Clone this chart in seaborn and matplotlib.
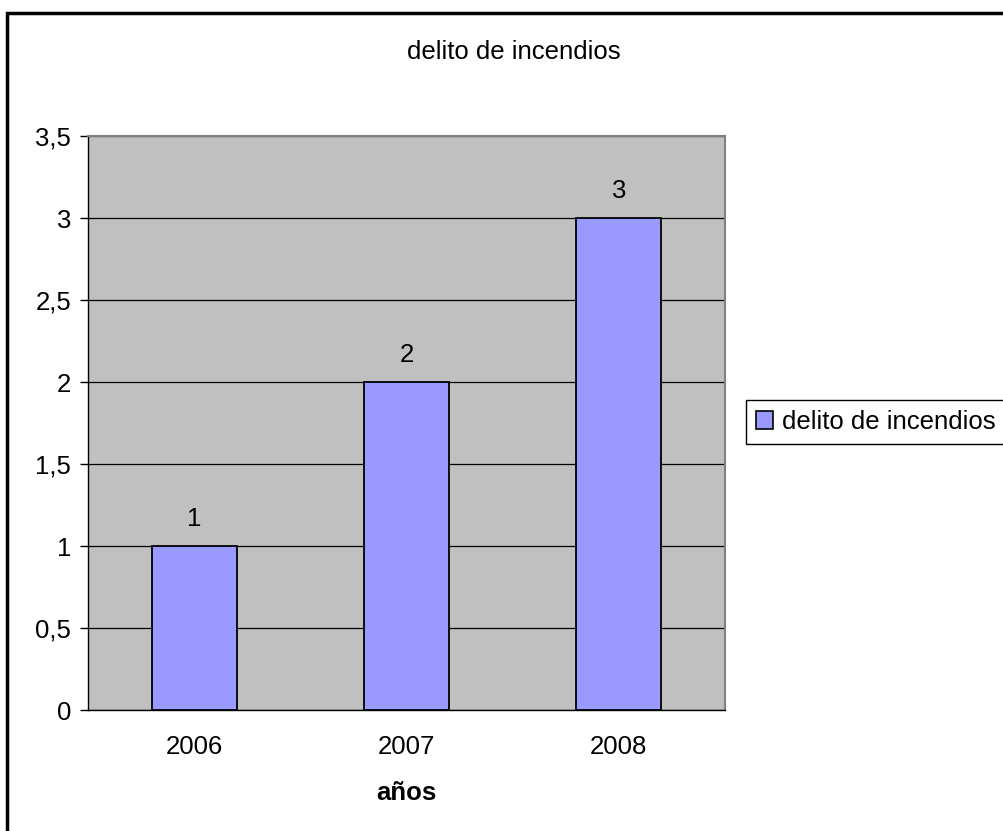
import pandas as pd
import matplotlib.pyplot as plt
from matplotlib.patches import Rectangle, Patch
import seaborn as sns

# chart data
years = ["2006", "2007", "2008"]
incendios = [1, 2, 3]
serie = "delito de incendios"

df = pd.DataFrame({"anio": years, "valor": incendios})

sns.set_style("white")
plt.rcParams['font.family'] = ['Liberation Sans', 'DejaVu Sans']
plt.rcParams['text.color'] = 'black'
plt.rcParams['xtick.color'] = 'black'
plt.rcParams['ytick.color'] = 'black'
plt.rcParams['axes.labelcolor'] = 'black'
fs = 18.5

fig = plt.figure(figsize=(10.04, 8.31), dpi=100)
ax = fig.add_axes([88 / 1004, 121 / 831, 637 / 1004, 574 / 831])
ax.set_facecolor("#C0C0C0")

sns.barplot(x="anio", y="valor", data=df, color="#9999FF", width=0.4,
            edgecolor="black", linewidth=1.3, saturation=1, ax=ax, zorder=3)

# value labels above bars
ax.bar_label(ax.containers[0], labels=[str(v) for v in incendios],
             padding=11, fontsize=fs)

ax.set_ylim(0, 3.5)
ax.set_xlim(-0.5, 2.5)
yt = [0, 0.5, 1, 1.5, 2, 2.5, 3, 3.5]
ax.set_yticks(yt)
ax.set_yticklabels([f"{v:g}".replace(".", ",") for v in yt], fontsize=fs)
ax.yaxis.grid(True, color="black", linewidth=0.9, zorder=1)
ax.set_axisbelow(True)

# category labels centred, ticks between categories
ax.set_xticks([0, 1, 2])
ax.set_xticklabels(years, fontsize=fs)
ax.tick_params(axis="x", which="major", length=0, pad=18)
ax.set_xticks([-0.5, 0.5, 1.5, 2.5], minor=True)
ax.tick_params(axis="x", which="minor", length=7, width=1, color="black", direction="out")
ax.tick_params(axis="y", length=6, width=1, color="black", direction="out", left=True, pad=6)

ax.set_xlabel("años", fontsize=fs, fontweight="bold", labelpad=16)
ax.set_ylabel("")

for side in ["top", "right"]:
    ax.spines[side].set_color("#808080")
    ax.spines[side].set_linewidth(1.5)
for side in ["left", "bottom"]:
    ax.spines[side].set_color("black")
    ax.spines[side].set_linewidth(1)

fig.text(514 / 1004, 1 - 52 / 831, serie, ha="center", va="center", fontsize=fs)

handle = Patch(facecolor="#9999FF", edgecolor="black", linewidth=1.2)
leg = fig.legend([handle], [serie], loc="center left",
                 bbox_to_anchor=(746 / 1004, 1 - 422 / 831), fontsize=fs,
                 frameon=True, fancybox=False, framealpha=1, edgecolor="black",
                 handlelength=0.65, handleheight=0.65, handletextpad=0.35,
                 borderpad=0.4, borderaxespad=0)
leg.get_frame().set_linewidth(1)

# outer chart border (right and bottom run off the image)
fig.patches.append(Rectangle((7 / 1004, -0.05), 1.1, 1 - 13 / 831 + 0.05,
                             transform=fig.transFigure, fill=False,
                             edgecolor="black", linewidth=2.5))

fig.savefig("out.png", dpi=100)
